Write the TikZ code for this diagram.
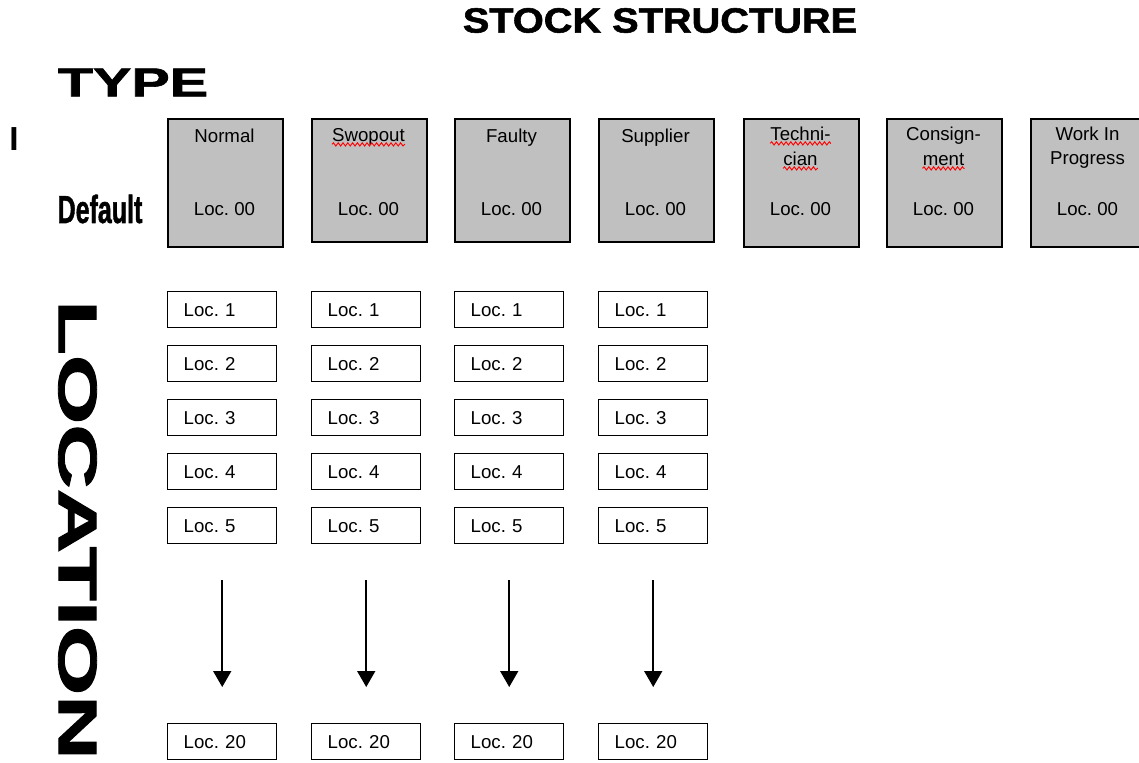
\documentclass[tikz,border=0pt]{standalone}
\usepackage{fontspec}
\setmainfont{Liberation Sans}
\newfontfamily\blackfont{Liberation Sans}[BoldFeatures={FakeBold=1.5}]
\usetikzlibrary{arrows.meta,decorations.pathmorphing}
\definecolor{boxgray}{RGB}{192,192,192}
\frenchspacing
\begin{document}
\begin{tikzpicture}[x=0.75pt,y=-0.75pt,
  typebox/.style={draw=black,line width=1.5pt,fill=boxgray,minimum width=86.25pt,inner sep=0pt,anchor=north west},
  locbox/.style={draw=black,line width=1.1pt,minimum height=27pt,text width=57.75pt,inner xsep=12pt,inner ysep=0pt,align=left,anchor=north west,font=\fontsize{14}{16}\selectfont},
  lbl/.style={inner sep=0pt,anchor=base,font=\fontsize{14}{16}\selectfont},
  arr/.style={line width=1.3pt,-{Triangle[width=13.5pt,length=12pt]},shorten <=27pt,shorten >=27pt},
  squig/.style={draw=red,line width=0.7pt,decorate,decoration={snake,amplitude=1.2pt,segment length=3.6pt}},
  head/.style={inner sep=0pt,font=\blackfont\bfseries}]
\clip (0,0) rectangle (1139,763);
\fill[white] (0,0) rectangle (1139,763);

% headings
\node[head] (title) at (660,20.5) {\fontsize{26.25}{30}\selectfont\scalebox{1.135}[1]{STOCK STRUCTURE}};
\node[head] (type) at (133,82.5) {\fontsize{30.4}{34}\selectfont\scalebox{1.42}[1]{TYPE}};
\node[head] (default) at (100,209) {\fontsize{29.3}{32}\selectfont\scalebox{0.64}[1]{Default}};
\node[head,rotate=-90] (location) at (77.5,530) {\fontsize{40.8}{44}\selectfont\scalebox{1.64}[1]{LOCATION}};
\node[inner sep=0pt,font=\bfseries\fontsize{25}{28}\selectfont] (cursor) at (14,139) {I};

% type boxes
\foreach \x/\n/\h in {167/normal/96,311/swop/92.25,454/faulty/92.25,598/supplier/92.25,743/tech/96,886/consign/96,1030/wip/96}
  \node[typebox,minimum height=\h pt] (\n) at (\x,118) {};

\node[lbl] (normal-t) at (224.5,143) {Normal};
\node[lbl] (swop-t) at (368.5,142) {Swopout};
\node[lbl] (faulty-t) at (511.5,143) {Faulty};
\node[lbl] (supplier-t) at (655.5,143) {Supplier};
\node[lbl] (tech-t1) at (800.5,141) {Techni-};
\node[lbl] (tech-t2) at (800.5,166) {cian};
\node[lbl] (consign-t1) at (943.5,141) {Consign-};
\node[lbl] (consign-t2) at (943.5,166) {ment};
\node[lbl] (wip-t1) at (1087.5,141) {Work In};
\node[lbl] (wip-t2) at (1087.5,165) {Progress};

\foreach \n/\x in {normal/224.5,swop/368.5,faulty/511.5,supplier/655.5,tech/800.5,consign/943.5,wip/1087.5}
  \node[lbl] (\n-l) at (\x,215) {Loc. 00};

% spelling squiggles
\draw[squig] ([yshift=-1.8pt]swop-t.base west) -- ([yshift=-1.8pt]swop-t.base east);
\draw[squig] ([yshift=-1.8pt]tech-t1.base west) -- ([yshift=-1.8pt]tech-t1.base east);
\draw[squig] ([yshift=-1.8pt]tech-t2.base west) -- ([yshift=-1.8pt]tech-t2.base east);
\draw[squig] ([yshift=-1.8pt]consign-t2.base west) -- ([yshift=-1.8pt]consign-t2.base east);

% location boxes and arrows
\foreach \c/\x in {1/167,2/311,3/454,4/598}{
  \foreach \r/\y in {1/291,2/345,3/399,4/453,5/507,20/723}
    \node[locbox] (l\c-\r) at (\x,\y) {Loc. \r};
  \draw[arr] (l\c-5) -- (l\c-20);
}
\end{tikzpicture}
\end{document}
